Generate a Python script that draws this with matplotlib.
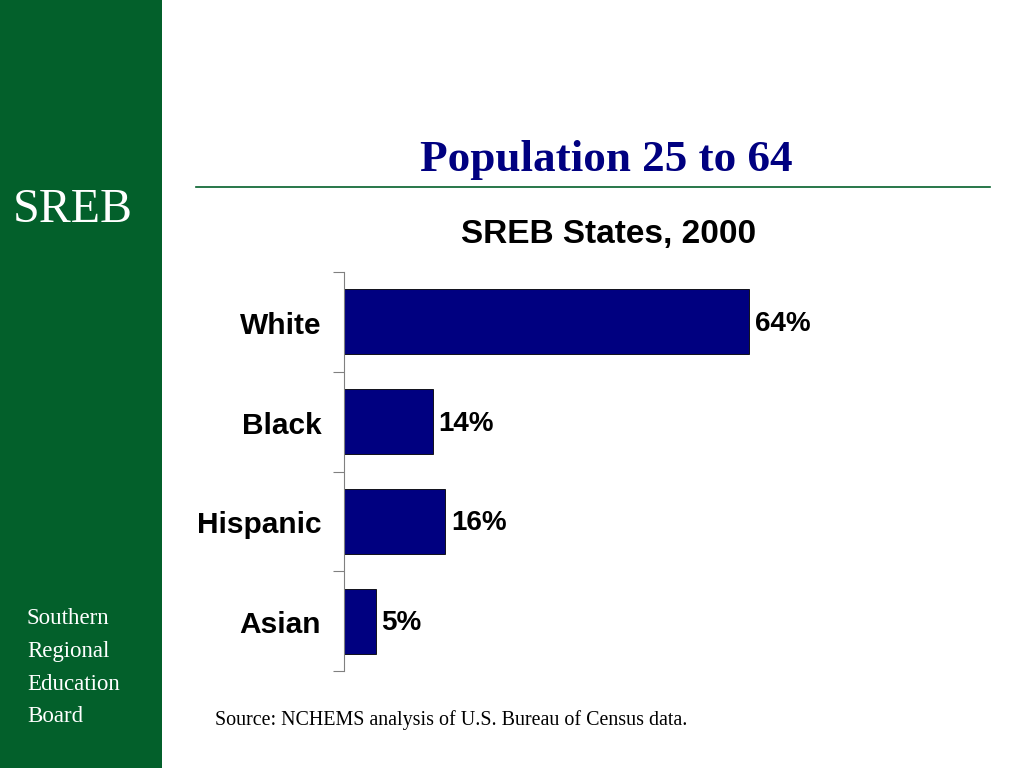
import matplotlib.pyplot as plt
from matplotlib.patches import Rectangle
from matplotlib.lines import Line2D

categorias = ['White', 'Black', 'Hispanic', 'Asian']
porcentajes = [64, 14, 16, 5]
etiquetas = ['64%', '14%', '16%', '5%']
pie_nota = ['Southern', 'Regional', 'Education', 'Board']

verde = '#03602b'
azul = '#000080'

fig = plt.figure(figsize=(10.24, 7.68), dpi=100)
fig.patch.set_facecolor('white')

# Barra lateral verde
fig.patches.append(Rectangle((0, 0), 162 / 1024, 1, transform=fig.transFigure,
                             facecolor=verde, edgecolor='none', zorder=0))
fig.text(73 / 1024, 1 - 210 / 768, 'SREB', color='white', fontsize=34.5,
         family='Liberation Serif', ha='center', va='center')
for i, palabra in enumerate(pie_nota):
    fig.text(27 / 1024, 1 - (618 + 33 * i) / 768, palabra, color='white',
             fontsize=16.5, family='Liberation Serif', ha='left', va='center')

# Titulo y linea
fig.text(606 / 1024, 1 - 160 / 768, 'Population 25 to 64', color=azul,
         fontsize=32.5, fontweight='bold', family='Liberation Serif',
         ha='center', va='center')
fig.lines.append(Line2D([196 / 1024, 990 / 1024], [1 - 187 / 768, 1 - 187 / 768],
                        transform=fig.transFigure, color=verde, lw=1.2))
fig.text(609 / 1024, 1 - 234 / 768, 'SREB States, 2000', color='black',
         fontsize=24, fontweight='bold', family='Liberation Sans',
         ha='center', va='center')

# Grafico de barras
ax = fig.add_axes([344 / 1024, 1 - 671 / 768, 633 / 1024, 399 / 768])
y = list(range(len(categorias)))
ax.barh(y, porcentajes, height=0.65, color=azul, edgecolor='black', linewidth=0.6)
ax.set_xlim(0, 100)
ax.set_ylim(len(categorias) - 0.5, -0.5)
for s in ['top', 'right', 'bottom']:
    ax.spines[s].set_visible(False)
ax.spines['left'].set_color('#808080')
ax.set_xticks([])
ax.set_yticks([i - 0.5 for i in range(len(categorias) + 1)])
ax.set_yticklabels([])
ax.tick_params(axis='y', length=8, color='#808080', direction='out')
for i, cat in enumerate(categorias):
    ax.text(-3.6, i + 0.04, cat, fontsize=21.5, fontweight='bold', family='Liberation Sans',
            ha='right', va='center')
    ax.text(porcentajes[i] + 0.9, i + 0.02, etiquetas[i], fontsize=20,
            fontweight='bold', family='Liberation Sans', ha='left', va='center')

fig.text(215 / 1024, 1 - 720 / 768, 'Source: NCHEMS analysis of U.S. Bureau of Census data.',
         fontsize=14.4, family='Liberation Serif', ha='left', va='center')

fig.savefig('out.png', dpi=100)
